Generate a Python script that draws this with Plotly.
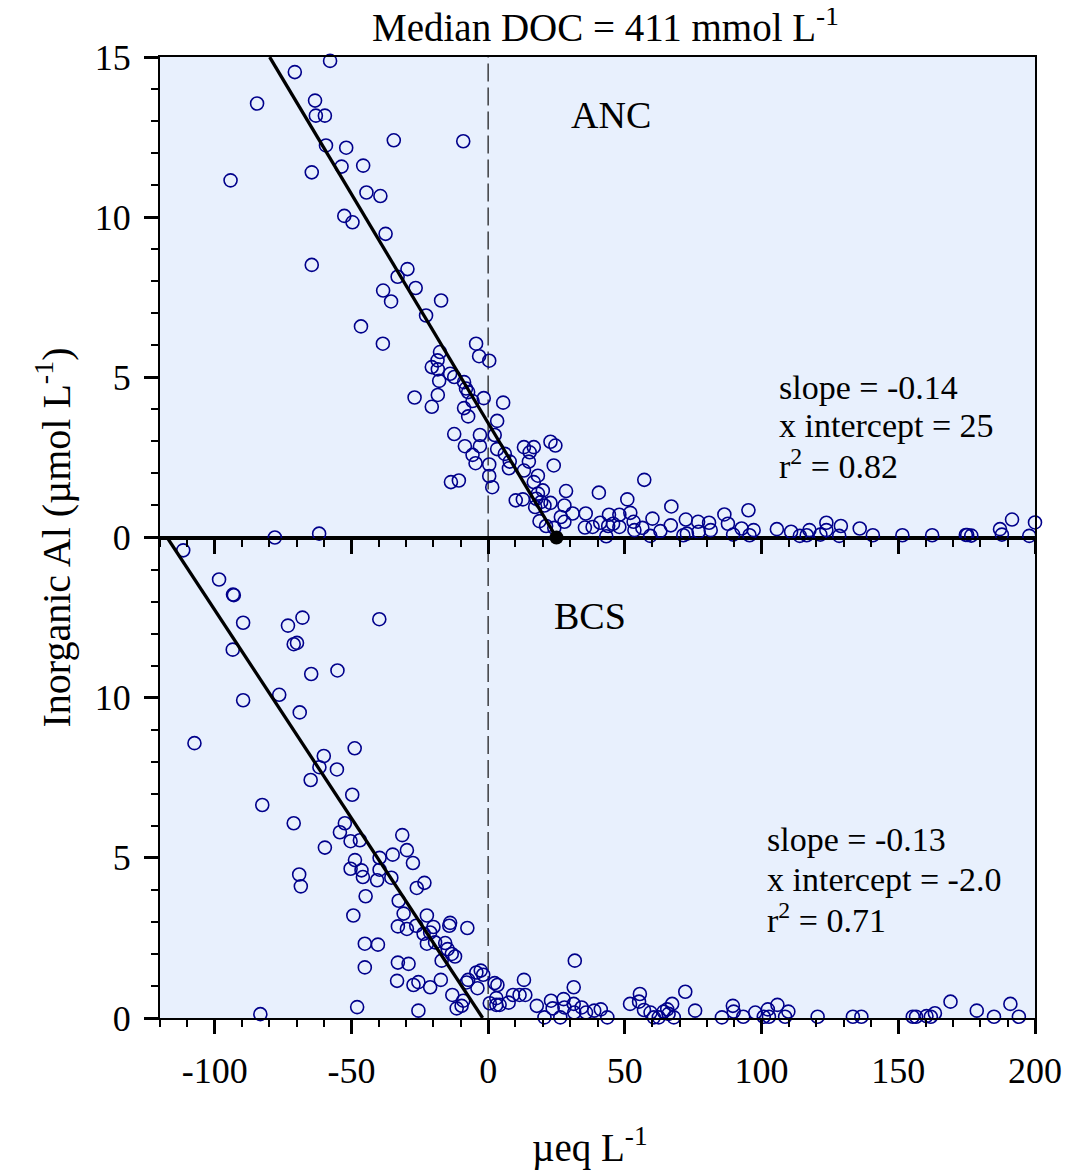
import plotly.graph_objects as go

# ---------------- data ----------------
anc_x = [-57.8, -70.7, -84.5, -63.3, -63.0, -59.7, -59.3, -51.9, -34.5, -9.1,
         -64.5, -94.2, -53.6, -45.7, -44.5, -39.4, -52.6, -49.6, -37.5, -64.5,
         -29.5, -33.1, -26.5, -38.4, -35.5, -17.2, -22.7, -46.5, -38.5, -4.4,
         -3.3, 0.4, -17.6, -18.5, -20.6, -18.4, -13.9, -12.4, -17.9, -8.8,
         -8.1, -7.3, -1.6, 5.5, -26.9, -18.4, -20.6, -8.8, -7.3, -5.7,
         3.3, -12.4, -3.0, 2.4, -8.5, -3.0, 3.3, -5.7, 6.1, -4.6,
         0.4, 7.9, 7.6, 13.1, 15.2, 16.7, 14.9, 13.1, 22.8, 24.6,
         24.0, 0.4, 1.5, -13.6, -10.7, 18.2, 16.7, 20.0, 28.5, 18.2,
         17.6, 19.4, 17.2, 20.6, 22.8, 10.1, 12.7, 27.9, 30.9, 35.7,
         26.6, 27.9, 18.8, 21.2, 24.2, 35.4, 38.2, 40.5, 57.1, 50.9,
         41.0, 44.2, 48.0, 52.0, 43.9, 45.7, 48.0, 53.2, 53.5, 43.2,
         60.1, 56.4, 59.3, 67.0, 66.8, 63.0, 72.3, 76.8, 80.8, 71.4,
         72.7, 77.0, 81.4, 86.4, 87.7, 95.2, 92.7, 89.6, 95.6, 97.1,
         105.6, 110.8, 114.0, 117.5, 116.5, 123.7, 123.7, 121.5, 129.0, 128.4,
         135.9, 140.7, 151.5, 162.4, 174.7, 175.2, 176.7, 187.2, 191.6, 187.9,
         197.9, 200.0, -61.8, -78.0]
anc_y = [14.88, 14.53, 13.55, 13.64, 13.17, 13.17, 12.24, 12.17, 12.40, 12.37,
         11.40, 11.15, 11.58, 11.61, 10.77, 10.66, 10.04, 9.84, 9.48, 8.51,
         8.38, 8.14, 7.79, 7.71, 7.37, 7.40, 6.93, 6.59, 6.05, 6.05,
         5.66, 5.52, 5.79, 5.53, 5.32, 5.25, 5.11, 5.01, 4.89, 4.85,
         4.65, 4.54, 4.35, 4.21, 4.37, 4.45, 4.08, 4.04, 3.78, 4.26,
         3.64, 3.23, 3.20, 3.20, 2.85, 2.85, 2.76, 2.58, 2.61, 2.32,
         2.28, 2.37, 2.16, 2.82, 2.66, 2.82, 2.37, 2.09, 2.99, 2.87,
         2.25, 1.92, 1.57, 1.73, 1.78, 1.93, 1.73, 1.47, 1.45, 1.37,
         1.21, 1.11, 0.95, 1.00, 1.08, 1.16, 1.19, 1.00, 0.75, 0.75,
         0.64, 0.49, 0.51, 0.36, 0.30, 0.31, 0.33, 1.40, 1.80, 1.19,
         0.46, 0.71, 0.71, 0.77, 0.36, 0.43, 0.33, 0.49, 0.23, 0.04,
         0.59, 0.30, 0.05, 0.97, 0.38, 0.20, 0.56, 0.49, 0.46, 0.07,
         0.12, 0.18, 0.23, 0.72, 0.43, 0.85, 0.28, 0.09, 0.07, 0.23,
         0.26, 0.18, 0.05, 0.23, 0.07, 0.46, 0.23, 0.09, 0.36, 0.05,
         0.28, 0.07, 0.07, 0.07, 0.08, 0.08, 0.06, 0.26, 0.56, 0.09,
         0.05, 0.47, 0.12, 0.0]

bcs_x = [-111.5, -98.4, -93.3, -93.0, -89.6, -73.2, -67.9, -39.8, -71.1, -69.9,
         -93.4, -64.7, -55.1, -76.4, -89.6, -68.9, -107.4, -48.8, -60.1, -61.7,
         -55.3, -64.9, -49.7, -82.6, -71.1, -52.4, -54.2, -31.4, -50.3, -46.9,
         -59.7, -29.7, -34.9, -39.7, -27.5, -48.7, -50.3, -46.3, -45.8, -39.7,
         -40.6, -35.4, -69.1, -68.5, -26.1, -23.3, -44.8, -32.7, -30.9, -49.3,
         -22.4, -33.0, -29.7, -26.3, -23.6, -20.0, -21.2, -13.9, -14.2, -7.6,
         -22.4, -19.4, -15.7, -14.8, -13.3, -12.1, -17.0, -45.1, -40.3, -45.1,
         -33.0, -29.1, -33.3, -27.3, -25.5, -21.2, -17.3, -13.1, -11.5, -9.7,
         -9.1, -47.9, -25.5, -4.3, -2.7, -1.8, -7.3, -7.9, -3.9, 2.4,
         0.6, 3.0, -83.3, 31.7, 31.3, 13.1, 3.4, 3.0, 4.2, 7.5,
         9.1, 11.5, 13.6, 17.8, 20.6, 23.0, 23.6, 26.4, 27.6, 27.9,
         31.3, 31.5, 34.2, 35.8, 38.8, 41.2, 43.6, 51.9, 55.5, 55.2,
         57.0, 59.4, 60.6, 62.4, 64.2, 65.5, 67.3, 67.9, 72.1, 75.7,
         85.5, 89.5, 89.8, 93.3, 97.7, 100.8, 102.3, 102.7, 105.8, 108.6,
         109.8, 120.5, 133.4, 136.5, 155.3, 156.5, 160.3, 161.9, 163.4, 169.1,
         178.7, 185.0, 191.0, 194.1, 66.0]
bcs_y = [14.60, 13.69, 13.22, 13.20, 12.34, 12.25, 12.50, 12.45, 11.67, 11.71,
         11.50, 10.74, 10.85, 10.09, 9.92, 9.54, 8.58, 8.42, 8.18, 7.83,
         7.76, 7.43, 6.97, 6.65, 6.08, 6.08, 5.80, 5.71, 5.52, 5.55,
         5.32, 5.24, 5.10, 5.00, 4.84, 4.93, 4.66, 4.61, 4.40, 4.63,
         4.30, 4.38, 4.48, 4.11, 4.06, 4.22, 3.80, 3.66, 3.26, 3.20,
         3.20, 2.86, 2.78, 2.88, 2.63, 2.84, 2.67, 2.97, 2.88, 2.81,
         2.32, 2.36, 2.34, 2.15, 2.00, 1.92, 1.79, 2.32, 2.29, 1.58,
         1.73, 1.69, 1.16, 1.03, 1.12, 0.96, 1.19, 0.72, 0.30, 0.38,
         0.54, 0.34, 0.23, 1.42, 1.48, 1.35, 1.19, 1.11, 0.93, 1.09,
         0.46, 0.41, 0.12, 1.79, 0.96, 1.19, 1.03, 0.62, 0.41, 0.48,
         0.72, 0.72, 0.72, 0.38, 0.02, 0.54, 0.30, 0.02, 0.59, 0.33,
         0.44, 0.17, 0.33, 0.17, 0.23, 0.27, 0.02, 0.44, 0.75, 0.51,
         0.25, 0.17, 0.02, 0.02, 0.20, 0.27, 0.44, 0.02, 0.82, 0.23,
         0.02, 0.38, 0.20, 0.04, 0.17, 0.04, 0.27, 0.04, 0.41, 0.04,
         0.20, 0.04, 0.04, 0.04, 0.04, 0.04, 0.06, 0.04, 0.15, 0.51,
         0.23, 0.04, 0.44, 0.04, 0.13]

# regression fits (slope, x intercept)
anc_fit = {"slope": -0.143, "xint": 25.0, "label_slope": "-0.14", "label_xint": "25", "r2": "0.82"}
bcs_fit = {"slope": -0.13, "xint": -2.0, "label_slope": "-0.13", "label_xint": "-2.0", "r2": "0.71"}

x_range = [-120, 200]
y_range = [0, 15]
x_ticks = [-100, -50, 0, 50, 100, 150, 200]
x_ticktext = ["-100", "-50", "0", "50", "100", "150", "200"]

FONT = "Liberation Serif, Times New Roman, serif"
NAVY = "#00008B"
BG = "#E8F0FD"


def fit_line(fit):
    s, xi = fit["slope"], fit["xint"]
    x_top = xi + y_range[1] / s
    x0 = max(x_top, x_range[0])
    return [x0, xi], [s * (x0 - xi), 0.0]


marker_style = dict(symbol="circle-open", size=13, color=NAVY, line=dict(width=1.6, color=NAVY))

fig = go.Figure()

# bottom panel (BCS): x / y
fig.add_trace(go.Scatter(x=bcs_x, y=bcs_y, mode="markers", xaxis="x", yaxis="y",
                         marker=marker_style, cliponaxis=False, showlegend=False))
lx, ly = fit_line(bcs_fit)
fig.add_trace(go.Scatter(x=lx, y=ly, mode="lines", xaxis="x", yaxis="y",
                         line=dict(color="black", width=3.3), showlegend=False))

# top panel (ANC): x2 / y2
fig.add_trace(go.Scatter(x=anc_x, y=anc_y, mode="markers", xaxis="x2", yaxis="y2",
                         marker=marker_style, cliponaxis=False, showlegend=False))
lx, ly = fit_line(anc_fit)
fig.add_trace(go.Scatter(x=lx, y=ly, mode="lines", xaxis="x2", yaxis="y2",
                         line=dict(color="black", width=3.3), showlegend=False))
fig.add_trace(go.Scatter(x=[anc_fit["xint"]], y=[0], mode="markers", xaxis="x2", yaxis="y2",
                         marker=dict(symbol="circle", size=14, color="black"),
                         cliponaxis=False, showlegend=False))

# dashed zero reference lines
for xref, yref in (("x", "y domain"), ("x2", "y2 domain")):
    fig.add_shape(type="line", xref=xref, yref=yref, x0=0, x1=0, y0=0, y1=1,
                  line=dict(color="#111111", width=1.2, dash="18px,6px"), layer="below")

major_y = [0, 5, 10, 15]
minor_y = [v for v in range(0, 16) if v % 5 != 0]

pad = 1e-3
xcommon = dict(range=[x_range[0] - pad, x_range[1] + pad], showline=True, linecolor="black",
               linewidth=2, ticks="outside", ticklen=14, tickwidth=2.5, tickcolor="black",
               tickmode="array", tickvals=x_ticks, ticktext=x_ticktext,
               showgrid=False, zeroline=False,
               minor=dict(dtick=10, tick0=0, ticks="outside", ticklen=7,
                          tickwidth=2, tickcolor="black", showgrid=False),
               tickfont=dict(family=FONT, size=36, color="black"), mirror=True)
ycommon = dict(range=[y_range[0], y_range[1] + pad], showline=True, linecolor="black",
               linewidth=2, ticks="outside", ticklen=14, tickwidth=2.5, tickcolor="black",
               tickmode="array", tickvals=major_y, showgrid=False, zeroline=False,
               minor=dict(tickmode="array", tickvals=minor_y, ticks="outside",
                          ticklen=7, tickwidth=2, tickcolor="black", showgrid=False),
               tickfont=dict(family=FONT, size=36, color="black"), mirror=True,
               ticklabelstandoff=6)

# the page adds an 8px body margin, so the figure is 16px smaller and left/top margins compensate
fig.update_layout(
    width=1066, height=1165,
    margin=dict(l=152, r=32, t=49, b=155),
    paper_bgcolor="white", plot_bgcolor=BG,
    font=dict(family=FONT, color="black"),
    xaxis=dict(domain=[0, 1], anchor="y", ticklabelstandoff=6, **xcommon),
    yaxis=dict(domain=[0, 0.5], anchor="x", ticktext=["0", "5", "10", ""], **ycommon),
    xaxis2=dict(domain=[0, 1], anchor="y2", matches="x", showticklabels=False, **xcommon),
    yaxis2=dict(domain=[0.5, 1], anchor="x2", ticktext=["0", "5", "10", "15"], **ycommon),
)

ann = []
ann.append(dict(text="Median DOC = 411 mmol L<sup>-1</sup>", xref="paper", yref="paper",
                x=0.509, y=1.0, yshift=32, xanchor="center", yanchor="middle",
                showarrow=False, font=dict(family=FONT, size=39)))
ann.append(dict(text="ANC", xref="x2", yref="y2", x=45.1, y=13.2, xanchor="center",
                yanchor="middle", showarrow=False, font=dict(family=FONT, size=38)))
ann.append(dict(text="BCS", xref="x", yref="y", x=37.1, y=12.56, xanchor="center",
                yanchor="middle", showarrow=False, font=dict(family=FONT, size=38)))
for fit, xr, yr, xpos, ys in ((anc_fit, "x2", "y2", 105.8, (4.69, 3.51, 2.30)),
                              (bcs_fit, "x", "y", 101.1, (5.57, 4.32, 3.13))):
    lines = [f"slope = {fit['label_slope']}",
             f"x intercept = {fit['label_xint']}",
             f"r<sup>2</sup> = {fit['r2']}"]
    for t, yy in zip(lines, ys):
        ann.append(dict(text=t, xref=xr, yref=yr, x=xpos, y=yy, xanchor="left",
                        yanchor="middle", showarrow=False, font=dict(family=FONT, size=34)))
ann.append(dict(text="Inorganic Al (µmol L<sup>-1</sup>)", xref="paper", yref="paper",
                x=0.0, xshift=-106, y=0.5, textangle=-90, xanchor="center", yanchor="middle",
                showarrow=False, font=dict(family=FONT, size=40)))
ann.append(dict(text="µeq L<sup>-1</sup>", xref="paper", yref="paper",
                x=0.491, y=0.0, yshift=-127, xanchor="center", yanchor="middle",
                showarrow=False, font=dict(family=FONT, size=39)))
fig.update_layout(annotations=ann)

fig.write_html("out.html")
